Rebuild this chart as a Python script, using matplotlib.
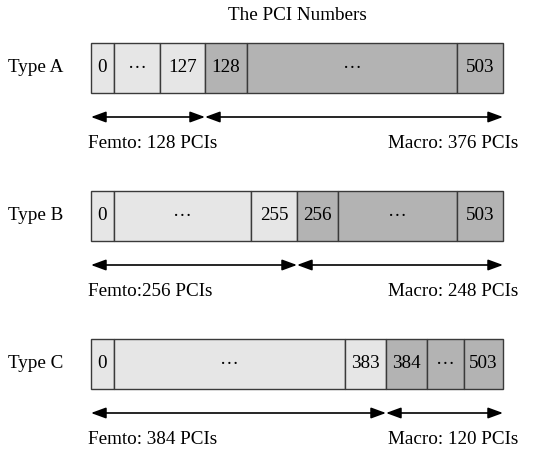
import matplotlib.pyplot as plt

plt.rcParams['font.family'] = ['Liberation Serif', 'DejaVu Serif']

# PCI split schemes, one row per type
types = ['Type A', 'Type B', 'Type C']
dots = '\u00b7\u00b7\u00b7'
cell_labels = [
    ['0', dots, '127', '128', dots, '503'],
    ['0', dots, '255', '256', dots, '503'],
    ['0', dots, '383', '384', dots, '503'],
]
# schematic cell widths (not proportional to PCI counts)
cell_widths = [
    [23, 46, 45, 42, 210, 46],
    [23, 137, 46, 41, 119, 46],
    [23, 231, 41, 41, 37, 39],
]
n_femto_cells = 3
femto_pcis = [128, 256, 384]
macro_pcis = [376, 248, 120]
femto_fmt = ['Femto: {} PCIs', 'Femto:{} PCIs', 'Femto: {} PCIs']

light = '#e6e6e6'
dark = '#b3b3b3'
fs = 13.8

fig = plt.figure(figsize=(5.58, 4.54), dpi=100)
ax = fig.add_axes([0, 0, 1, 1])
ax.set_xlim(-91, 467)
ax.set_ylim(454, 0)
ax.axis('off')

row_gap = 148
row0 = 68
bar_h = 50

for i, name in enumerate(types):
    yc = row0 + i * row_gap
    widths = cell_widths[i]
    lefts = [sum(widths[:k]) for k in range(len(widths))]
    colors = [light if k < n_femto_cells else dark for k in range(len(widths))]
    ax.barh(yc, widths, left=lefts, height=bar_h, color=colors,
            edgecolor='#3a3a3a', linewidth=1.0)
    for lab, l, w in zip(cell_labels[i], lefts, widths):
        ax.text(l + w / 2, yc, lab, ha='center', va='center', fontsize=fs)
    ax.text(-83, yc, name, ha='left', va='center', fontsize=fs)

    split = sum(widths[:n_femto_cells])
    total = sum(widths)
    ya = yc + 49
    for x0, x1 in [(0, split), (split, total)]:
        ax.annotate('', xy=(x1, ya), xytext=(x0, ya),
                    arrowprops=dict(arrowstyle='<|-|>,head_length=0.6,head_width=0.22',
                                    color='black', lw=1.2, mutation_scale=15,
                                    shrinkA=0, shrinkB=0))
    yt = yc + 75
    ax.text(-3, yt, femto_fmt[i].format(femto_pcis[i]), ha='left',
            va='center', fontsize=fs)
    ax.text(427, yt, 'Macro: {} PCIs'.format(macro_pcis[i]), ha='right',
            va='center', fontsize=fs)

ax.text(206, 15, 'The PCI Numbers', ha='center', va='center', fontsize=fs)

fig.savefig('out.png', dpi=100)
